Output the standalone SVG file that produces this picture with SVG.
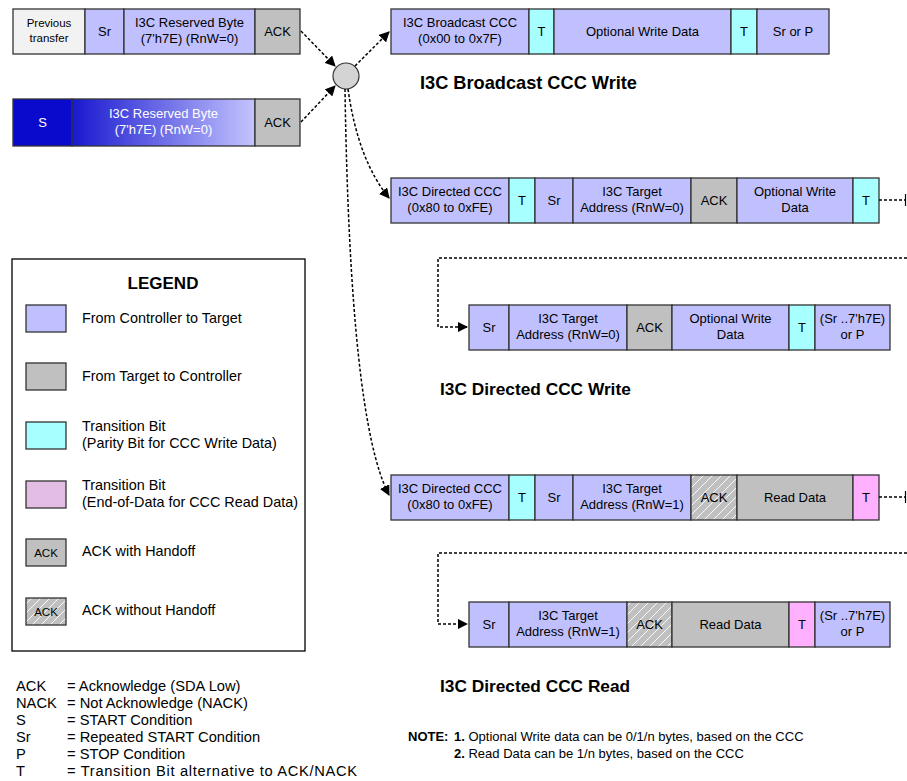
<svg xmlns="http://www.w3.org/2000/svg" width="907" height="781" viewBox="0 0 907 781">
  <style>
    text { font-family: "Liberation Sans", Arial, sans-serif; fill: #000; }
    .lb { font-size: 13px; text-anchor: middle; }
    .sm { font-size: 11.5px; text-anchor: middle; }
    .wt { fill: #fff; }
    .title { font-size: 17.3px; font-weight: bold; }
    .leg { font-size: 14.4px; }
    .abbr { font-size: 14.7px; }
    .note { font-size: 13px; }
    .b { stroke: #333; stroke-width: 1.3; }
    .ct { fill: #C0C0FF; }
    .tc { fill: #C0C0C0; }
    .tp { fill: #A8FFFF; }
    .te { fill: #FFB0FF; }
    .pv { fill: #F2F2F2; }
    .st { fill: #0A0ACC; }
    .nh { fill: url(#hatch); }
    .dash { fill: none; stroke: #000; stroke-width: 1.5; stroke-dasharray: 3 2; }
    .arr { marker-end: url(#tri); }
  </style>
  <defs>
    <marker id="tri" viewBox="0 0 10 10" refX="9" refY="5" markerWidth="7" markerHeight="7" markerUnits="strokeWidth" orient="auto">
      <path d="M0,0 L10,5 L0,10 Z" fill="#000"/>
    </marker>
    <linearGradient id="grad" x1="0" y1="0" x2="1" y2="0">
      <stop offset="0" stop-color="#1818D0"/>
      <stop offset="1" stop-color="#C4C4FF"/>
    </linearGradient>
    <pattern id="hatch" patternUnits="userSpaceOnUse" width="9" height="9">
      <rect width="9" height="9" fill="#C0C0C0"/>
      <path d="M-1,10 L10,-1 M-1,1 L1,-1 M8,10 L10,8" stroke="#fff" stroke-width="0.9"/>
    </pattern>
  </defs>

  <!-- previous transfer with repeated start -->
  <g id="prev-transfer">
    <rect class="b pv" x="13" y="9" width="72" height="45"/>
    <text class="sm" x="49" y="27">Previous</text>
    <text class="sm" x="49" y="42">transfer</text>
    <rect class="b ct" x="85" y="9" width="39" height="45"/>
    <text class="lb" x="104.5" y="36">Sr</text>
    <rect class="b ct" x="124" y="9" width="131" height="45"/>
    <text class="lb" x="189.5" y="27">I3C Reserved Byte</text>
    <text class="lb" x="189.5" y="43">(7'h7E) (RnW=0)</text>
    <rect class="b tc" x="255" y="9" width="45" height="45"/>
    <text class="lb" x="277.5" y="36">ACK</text>
  </g>

  <!-- start condition -->
  <g id="start-transfer">
    <rect class="b st" x="13" y="99" width="59" height="47"/>
    <text class="lb wt" x="42.5" y="127">S</text>
    <rect class="b" x="72" y="99" width="183" height="47" fill="url(#grad)"/>
    <text class="lb wt" x="163.5" y="118">I3C Reserved Byte</text>
    <text class="lb wt" x="163.5" y="134">(7'h7E) (RnW=0)</text>
    <rect class="b tc" x="255" y="99" width="45" height="47"/>
    <text class="lb" x="277.5" y="127">ACK</text>
  </g>

  <!-- junction -->
  <g id="junction">
    <circle cx="346" cy="76" r="13" fill="#D4D4D4" stroke="#333" stroke-width="1.2"/>
  </g>

  <!-- broadcast CCC write -->
  <g id="broadcast-write">
    <rect class="b ct" x="391" y="9" width="138" height="45"/>
    <text class="lb" x="460" y="27">I3C Broadcast CCC</text>
    <text class="lb" x="460" y="43">(0x00 to 0x7F)</text>
    <rect class="b tp" x="529" y="9" width="25" height="45"/>
    <text class="lb" x="541.5" y="36">T</text>
    <rect class="b ct" x="554" y="9" width="177" height="45"/>
    <text class="lb" x="642.5" y="36">Optional Write Data</text>
    <rect class="b tp" x="731" y="9" width="26" height="45"/>
    <text class="lb" x="744" y="36">T</text>
    <rect class="b ct" x="757" y="9" width="72" height="45"/>
    <text class="lb" x="793" y="36">Sr or P</text>
    <text class="title" x="420" y="89" style="font-size:18.2px">I3C Broadcast CCC Write</text>
  </g>

  <!-- directed CCC write, first frame -->
  <g id="directed-write-1">
    <rect class="b ct" x="391" y="178" width="118" height="45"/>
    <text class="lb" x="450" y="196">I3C Directed CCC</text>
    <text class="lb" x="450" y="212">(0x80 to 0xFE)</text>
    <rect class="b tp" x="509" y="178" width="26" height="45"/>
    <text class="lb" x="522" y="205">T</text>
    <rect class="b ct" x="535" y="178" width="38" height="45"/>
    <text class="lb" x="554" y="205">Sr</text>
    <rect class="b ct" x="573" y="178" width="118" height="45"/>
    <text class="lb" x="632" y="196">I3C Target</text>
    <text class="lb" x="632" y="212">Address (RnW=0)</text>
    <rect class="b tc" x="691" y="178" width="46" height="45"/>
    <text class="lb" x="714" y="205">ACK</text>
    <rect class="b ct" x="737" y="178" width="116" height="45"/>
    <text class="lb" x="795" y="196">Optional Write</text>
    <text class="lb" x="795" y="212">Data</text>
    <rect class="b tp" x="853" y="178" width="26" height="45"/>
    <text class="lb" x="866" y="205">T</text>
  </g>

  <!-- directed CCC write, repeated frame -->
  <g id="directed-write-2">
    <rect class="b ct" x="469" y="305" width="40" height="45"/>
    <text class="lb" x="489" y="332">Sr</text>
    <rect class="b ct" x="509" y="305" width="118" height="45"/>
    <text class="lb" x="568" y="323">I3C Target</text>
    <text class="lb" x="568" y="339">Address (RnW=0)</text>
    <rect class="b tc" x="627" y="305" width="45" height="45"/>
    <text class="lb" x="649.5" y="332">ACK</text>
    <rect class="b ct" x="672" y="305" width="117" height="45"/>
    <text class="lb" x="730.5" y="323">Optional Write</text>
    <text class="lb" x="730.5" y="339">Data</text>
    <rect class="b tp" x="789" y="305" width="26" height="45"/>
    <text class="lb" x="802" y="332">T</text>
    <rect class="b ct" x="815" y="305" width="75" height="45"/>
    <text class="lb" x="852.5" y="323">(Sr ..7'h7E)</text>
    <text class="lb" x="852.5" y="339">or P</text>
    <text class="title" x="440" y="395">I3C Directed CCC Write</text>
  </g>

  <!-- directed CCC read, first frame -->
  <g id="directed-read-1">
    <rect class="b ct" x="391" y="475" width="118" height="45"/>
    <text class="lb" x="450" y="493">I3C Directed CCC</text>
    <text class="lb" x="450" y="509">(0x80 to 0xFE)</text>
    <rect class="b tp" x="509" y="475" width="26" height="45"/>
    <text class="lb" x="522" y="502">T</text>
    <rect class="b ct" x="535" y="475" width="38" height="45"/>
    <text class="lb" x="554" y="502">Sr</text>
    <rect class="b ct" x="573" y="475" width="118" height="45"/>
    <text class="lb" x="632" y="493">I3C Target</text>
    <text class="lb" x="632" y="509">Address (RnW=1)</text>
    <rect class="b nh" x="691" y="475" width="46" height="45"/>
    <text class="lb" x="714" y="502">ACK</text>
    <rect class="b tc" x="737" y="475" width="116" height="45"/>
    <text class="lb" x="795" y="502">Read Data</text>
    <rect class="b te" x="853" y="475" width="26" height="45"/>
    <text class="lb" x="866" y="502">T</text>
  </g>

  <!-- directed CCC read, repeated frame -->
  <g id="directed-read-2">
    <rect class="b ct" x="469" y="602" width="40" height="45"/>
    <text class="lb" x="489" y="629">Sr</text>
    <rect class="b ct" x="509" y="602" width="118" height="45"/>
    <text class="lb" x="568" y="620">I3C Target</text>
    <text class="lb" x="568" y="636">Address (RnW=1)</text>
    <rect class="b nh" x="627" y="602" width="45" height="45"/>
    <text class="lb" x="649.5" y="629">ACK</text>
    <rect class="b tc" x="672" y="602" width="117" height="45"/>
    <text class="lb" x="730.5" y="629">Read Data</text>
    <rect class="b te" x="789" y="602" width="26" height="45"/>
    <text class="lb" x="802" y="629">T</text>
    <rect class="b ct" x="815" y="602" width="75" height="45"/>
    <text class="lb" x="852.5" y="620">(Sr ..7'h7E)</text>
    <text class="lb" x="852.5" y="636">or P</text>
    <text class="title" x="440" y="692">I3C Directed CCC Read</text>
  </g>

  <!-- connectors -->
  <g id="connectors">
    <path class="dash arr" d="M301,31 L335,66"/>
    <path class="dash arr" d="M301,122 L335,86"/>
    <path class="dash arr" d="M355,66 L389,32"/>
    <path class="dash arr" d="M348,89 Q358,160 389,198"/>
    <path class="dash arr" d="M345,89 Q350,420 389,495"/>
    <path class="dash" d="M879,200 L905,200"/>
    <path d="M905.5,194 L905.5,206" stroke="#000" stroke-width="1.2"/>
    <path class="dash arr" d="M907,258 L438,258 L438,327 L467,327"/>
    <path class="dash" d="M879,497 L905,497"/>
    <path d="M905.5,491 L905.5,503" stroke="#000" stroke-width="1.2"/>
    <path class="dash arr" d="M907,553 L438,553 L438,624 L467,624"/>
  </g>

  <!-- legend -->
  <g id="legend">
    <rect x="12" y="259" width="293" height="392" fill="#fff" stroke="#000" stroke-width="1.3"/>
    <text class="title" x="163" y="289" text-anchor="middle" style="font-size:17px">LEGEND</text>
    <rect class="b ct" x="26" y="305" width="40" height="27"/>
    <text class="leg" x="82" y="323">From Controller to Target</text>
    <rect class="b tc" x="26" y="363" width="40" height="27"/>
    <text class="leg" x="82" y="381">From Target to Controller</text>
    <rect class="b tp" x="26" y="422" width="40" height="27"/>
    <text class="leg" x="82" y="431">Transition Bit</text>
    <text class="leg" x="82" y="448">(Parity Bit for CCC Write Data)</text>
    <rect class="b" x="26" y="481" width="40" height="27" fill="#E4BDE4"/>
    <text class="leg" x="82" y="490">Transition Bit</text>
    <text class="leg" x="82" y="507">(End-of-Data for CCC Read Data)</text>
    <rect class="b tc" x="26" y="539" width="40" height="27"/>
    <text class="sm" x="46" y="557">ACK</text>
    <text class="leg" x="82" y="556">ACK with Handoff</text>
    <rect class="b nh" x="26" y="598" width="40" height="27"/>
    <text class="sm" x="46" y="616">ACK</text>
    <text class="leg" x="82" y="615">ACK without Handoff</text>
  </g>

  <!-- abbreviations -->
  <g id="abbreviations">
    <text class="abbr" x="16" y="691">ACK</text>
    <text class="abbr" x="67" y="691">= Acknowledge (SDA Low)</text>
    <text class="abbr" x="16" y="708">NACK</text>
    <text class="abbr" x="67" y="708">= Not Acknowledge (NACK)</text>
    <text class="abbr" x="16" y="725">S</text>
    <text class="abbr" x="67" y="725">= START Condition</text>
    <text class="abbr" x="16" y="742">Sr</text>
    <text class="abbr" x="67" y="742">= Repeated START Condition</text>
    <text class="abbr" x="16" y="759">P</text>
    <text class="abbr" x="67" y="759">= STOP Condition</text>
    <text class="abbr" x="16" y="776">T</text>
    <text class="abbr" x="67" y="776" textLength="290" lengthAdjust="spacing">= Transition Bit alternative to ACK/NACK</text>
  </g>

  <!-- notes -->
  <g id="notes">
    <text class="note" x="408" y="741"><tspan font-weight="bold">NOTE:</tspan><tspan x="454" font-weight="bold">1.</tspan> Optional Write data can be 0/1/n bytes, based on the CCC</text>
    <text class="note" x="454" y="758"><tspan font-weight="bold">2.</tspan> Read Data can be 1/n bytes, based on the CCC</text>
  </g>
</svg>
